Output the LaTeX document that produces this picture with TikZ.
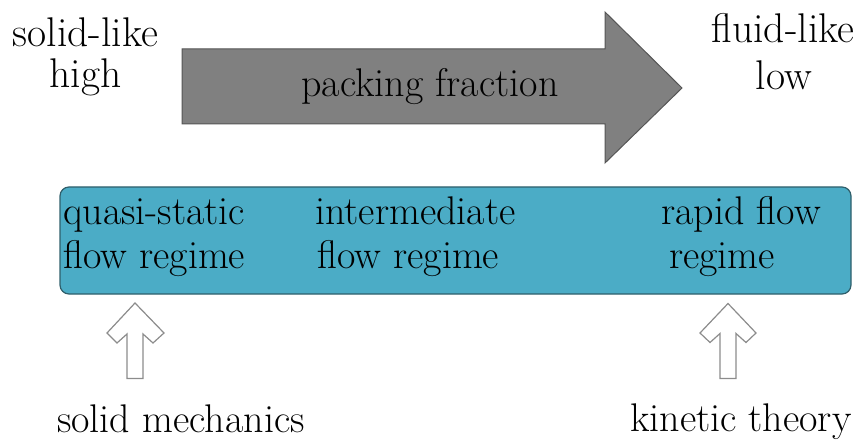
\documentclass[tikz,border=0pt]{standalone}
\definecolor{boxfill}{HTML}{4BACC6}
\definecolor{boxline}{HTML}{2F5F6B}
\definecolor{arrfill}{HTML}{808080}
\definecolor{arrline}{HTML}{555555}
\definecolor{hollow}{HTML}{8C8C8C}
\begin{document}
\begin{tikzpicture}[x=1pt,y=-1pt,
  lbl/.style={inner sep=0pt,anchor=base,font=\fontsize{41.5}{41.5}\selectfont},
  boxtxt/.style={inner sep=0pt,anchor=base west,font=\fontsize{40}{40}\selectfont},
  bottxt/.style={inner sep=0pt,anchor=base west,font=\fontsize{40}{40}\selectfont},
  hollowarrow/.style={draw=hollow,line width=1.2pt,fill=white,line join=miter}]
\useasboundingbox (0,0) rectangle (860,441);
% corner labels
\node[lbl] (solid) at (85.5,47) {solid-like};
\node[lbl] (high) at (85.5,88) {high};
\node[lbl] (fluid) at (783,43) {fluid-like};
\node[lbl] (low) at (784,90) {low};
% big arrow
\draw[fill=arrfill,draw=arrline,line width=1pt,line join=miter]
  (182,49) -- (605,49) -- (605,12) -- (682,88) -- (605,163) -- (605,124) -- (182,124) -- cycle;
\node[inner sep=0pt,anchor=base,font=\fontsize{40}{40}\selectfont] (pf) at (430,97) {packing fraction};
% regime box
\draw[fill=boxfill,draw=boxline,line width=1.2pt,rounded corners=9pt] (60,187) rectangle (851,294);
\node[boxtxt] (q1) at (63,225) {quasi-static};
\node[boxtxt] (q2) at (63,268) {flow regime};
\node[boxtxt] (i1) at (315,225) {intermediate};
\node[boxtxt] (i2) at (317,268) {flow regime};
\node[boxtxt] (r1) at (661,225) {rapid flow};
\node[boxtxt] (r2) at (669,268) {regime};
% hollow arrows
\draw[hollowarrow] (135,303) -- (164,333) -- (153,343) -- (143,334) -- (143,378.5) -- (127,378.5) -- (127,334) -- (117,343) -- (107,333) -- cycle;
\draw[hollowarrow] (728,303.5) -- (756,333) -- (746,342.5) -- (736,333.5) -- (736,378.5) -- (720,378.5) -- (720,333.5) -- (710,342.5) -- (700,333) -- cycle;
% bottom labels
\node[bottxt] (sm) at (57,432) {solid mechanics};
\node[bottxt] (kt) at (630,431) {kinetic theory};
\end{tikzpicture}
\end{document}
